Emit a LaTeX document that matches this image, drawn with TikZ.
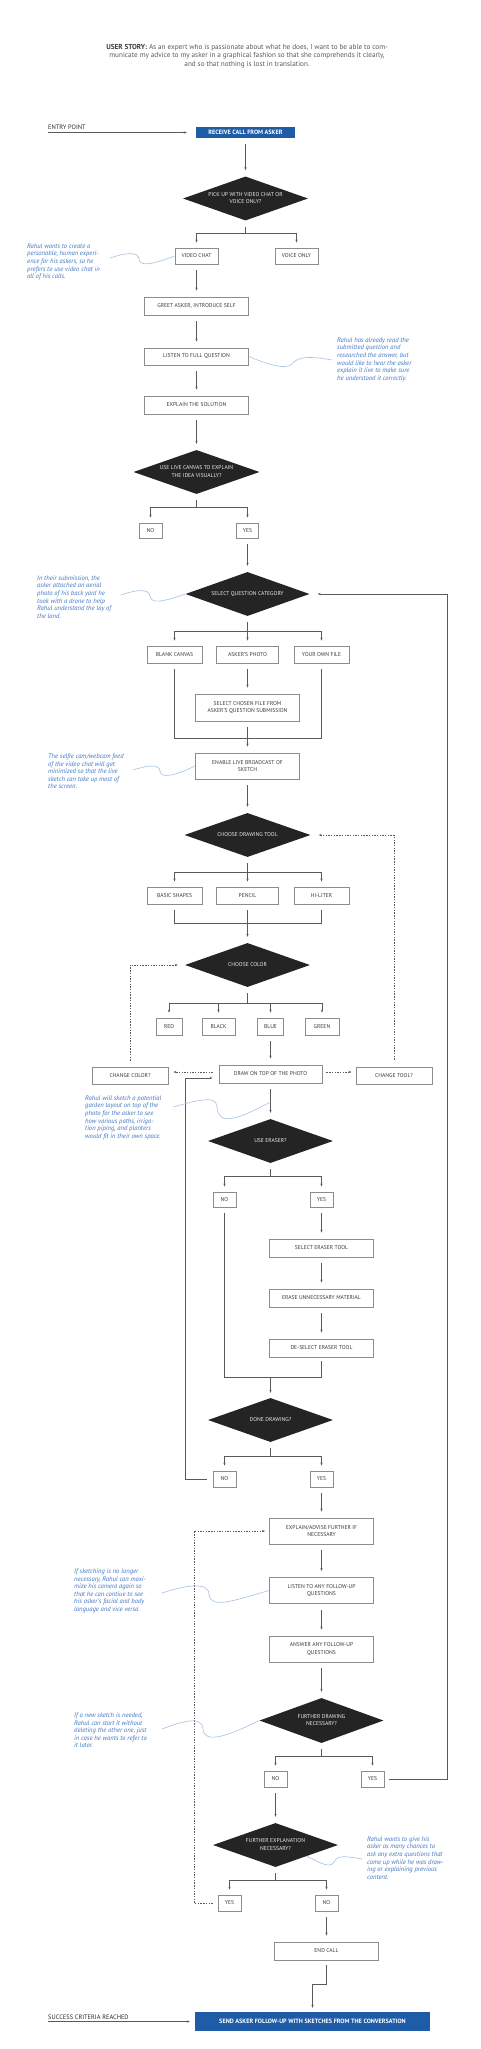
\documentclass[tikz,border=0pt]{standalone}
\usepackage{fontspec}
\setmainfont{PT Sans}
\usetikzlibrary{shapes.geometric,arrows.meta,calc}
\definecolor{lnc}{HTML}{5A5A5A}
\definecolor{boxc}{HTML}{8C8C8C}
\definecolor{txtc}{HTML}{3A3A3A}
\definecolor{diac}{HTML}{242424}
\definecolor{bluec}{HTML}{1F5CA8}
\definecolor{notec}{HTML}{4177C2}
\definecolor{wavec}{HTML}{A6C2E4}
\definecolor{storyc}{HTML}{5A5A5A}
\definecolor{labc}{HTML}{2A2A2A}
\newcommand\boxfont{\fontsize{5.6}{7.8}\selectfont}
\newcommand\notefont{\fontsize{6.6}{7.6}\selectfont\itshape}
\newcommand\labfont{\fontsize{6.4}{7.2}\selectfont}
\newcommand\bluefont{\fontsize{6.2}{7}\selectfont\bfseries}
\newcommand\dtxt[1]{\makebox[0pt]{\begin{tabular}{@{}c@{}}#1\end{tabular}}}
\tikzset{
  ln/.style={draw=lnc, line width=0.6pt},
  tip/.style={-{Stealth[length=3pt,width=2.2pt]}},
  arr/.style={ln, tip, shorten >=6pt, shorten <=6pt},
  jarr/.style={ln, tip, shorten >=5pt},
  darr/.style={ln, tip, dash pattern=on 1.4pt off 1.3pt},
  box/.style={draw=boxc, line width=0.8pt, fill=white, text=txtc, inner sep=0pt,
    font=\boxfont, align=center, minimum height=18pt, minimum width=104pt},
  bluebox/.style={fill=bluec, text=white, font=\bluefont, inner sep=0pt},
  dia/.style={diamond, fill=diac, text=white!92!black, inner sep=0pt,
    minimum width=125pt, minimum height=44pt, font=\boxfont},
  note/.style={text=notec, font=\notefont, align=left, inner sep=0pt, anchor=north west},
  wave/.style={draw=wavec, line width=0.6pt},
  lab/.style={text=labc, font=\labfont, inner sep=0pt},
}
\begin{document}
\begin{tikzpicture}[x=1pt,y=-1pt]
\fill[white] (0,0) rectangle (481,2049);
\useasboundingbox (0,0) rectangle (481,2049);

% user story
\node[text=storyc, font=\fontsize{7.2}{8.2}\selectfont, align=center, inner sep=0pt] (us) at (247,56)
 {\textcolor{txtc}{\bfseries USER STORY:} As an expert who is passionate about what he does, I want to be able to com-\\
  municate my advice to my asker in a graphical fashion so that she comprehends it clearly,\\
  and so that nothing is lost in translation.};

% entry
\node[bluebox, minimum width=99pt, minimum height=11.5pt] (rc) at (245.5,132.5) {RECEIVE CALL FROM ASKER};
\node[lab, anchor=base west] (ep) at (48,129.5) {ENTRY POINT};
\draw[ln, tip] (ep.base west |- rc.west) -- ($(rc.west)+(-9,0)$);

\node[dia] (d1) at (245.5,198.5) {\dtxt{PICK UP WITH VIDEO CHAT OR\\VOICE ONLY?}};
\draw[arr] (rc) -- (d1);
\node[box, minimum width=43pt, minimum height=16pt] (vc) at (196.5,256) {VIDEO CHAT};
\node[box, minimum width=43pt, minimum height=16pt] (vo) at (296.5,256) {VOICE ONLY};
\coordinate (j1) at (245.5,233);
\draw[ln] ($(d1.south)+(0,6)$) -- (j1);
\draw[ln] (j1 -| vc) -- (j1 -| vo);
\draw[jarr] (j1 -| vc) -- (vc);
\draw[jarr] (j1 -| vo) -- (vo);

\node[box] (gr) at (196.5,306) {GREET ASKER, INTRODUCE SELF};
\node[box, minimum height=17pt] (ls) at (196.5,356.5) {LISTEN TO FULL QUESTION};
\node[box] (es) at (196.5,405) {EXPLAIN THE SOLUTION};
\node[dia, minimum width=126pt] (d2) at (196.5,472) {\dtxt{USE LIVE CANVAS TO EXPLAIN\\THE IDEA VISUALLY?}};
\draw[arr] (vc) -- (gr);
\draw[arr] (gr) -- (ls);
\draw[arr] (ls) -- (es);
\draw[arr] (es) -- (d2);

\node[box, minimum width=23pt, minimum height=15pt] (n2) at (150.5,530.5) {NO};
\node[box, minimum width=22pt, minimum height=15pt] (y2) at (247.5,530.5) {YES};
\coordinate (j2) at (196.5,507);
\draw[ln] ($(d2.south)+(0,6)$) -- (j2);
\draw[ln] (j2 -| n2) -- (j2 -| y2);
\draw[jarr] (j2 -| n2) -- (n2);
\draw[jarr] (j2 -| y2) -- (y2);

% select question category
\node[dia, minimum width=124pt] (d3) at (247.5,594) {\dtxt{SELECT QUESTION CATEGORY}};
\draw[arr] (y2) -- (d3);
\node[box, minimum width=55pt, minimum height=17pt] (bc) at (174.5,654.5) {BLANK CANVAS};
\node[box, minimum width=62pt, minimum height=17pt] (ap) at (247.5,654.5) {ASKER'S PHOTO};
\node[box, minimum width=55pt, minimum height=17pt] (yf) at (321.5,654.5) {YOUR OWN FILE};
\coordinate (j3) at (247.5,631);
\draw[ln] ($(d3.south)+(0,6)$) -- (j3);
\draw[ln] (j3 -| bc) -- (j3 -| yf);
\draw[jarr] (j3 -| bc) -- (bc);
\draw[jarr] (j3) -- (ap);
\draw[jarr] (j3 -| yf) -- (yf);

\node[box, minimum height=27pt] (sc) at (247.5,707.5) {SELECT CHOSEN FILE FROM\\ASKER'S QUESTION SUBMISSION};
\draw[arr] (ap) -- (sc);
\coordinate (m1) at (0,738);
\draw[ln] ($(bc.south)+(0,6)$) -- (bc |- m1) -- (yf |- m1) -- ($(yf.south)+(0,6)$);
\node[box, minimum height=26pt] (eb) at (247.5,766) {ENABLE LIVE BROADCAST OF\\SKETCH};
\draw[arr] (sc) -- (eb);

% drawing tool
\node[dia, minimum width=126pt] (d4) at (247.5,835) {\dtxt{CHOOSE DRAWING TOOL}};
\draw[arr] (eb) -- (d4);
\node[box, minimum width=55pt, minimum height=17pt] (bs) at (174.5,895.5) {BASIC SHAPES};
\node[box, minimum width=62pt, minimum height=17pt] (pe) at (247.5,895.5) {PENCIL};
\node[box, minimum width=55pt, minimum height=17pt] (hl) at (321.5,895.5) {HI-LITER};
\coordinate (j4) at (247.5,872);
\draw[ln] ($(d4.south)+(0,6)$) -- (j4);
\draw[ln] (j4 -| bs) -- (j4 -| hl);
\draw[jarr] (j4 -| bs) -- (bs);
\draw[jarr] (j4) -- (pe);
\draw[jarr] (j4 -| hl) -- (hl);
\coordinate (m2) at (0,923);
\draw[ln] ($(bs.south)+(0,6)$) -- (bs |- m2) -- (hl |- m2) -- ($(hl.south)+(0,6)$);

% color
\node[dia] (d5) at (247.5,965) {\dtxt{CHOOSE COLOR}};
\draw[arr] (pe) -- (d5);
\node[box, minimum width=26pt, minimum height=17pt] (rd) at (169,1026.5) {RED};
\node[box, minimum width=33pt, minimum height=17pt] (bk) at (218.5,1026.5) {BLACK};
\node[box, minimum width=26pt, minimum height=17pt] (bl) at (270.5,1026.5) {BLUE};
\node[box, minimum width=34pt, minimum height=17pt] (gn) at (322,1026.5) {GREEN};
\coordinate (j5) at (247.5,1003);
\draw[ln] ($(d5.south)+(0,6)$) -- (j5);
\draw[ln] (j5 -| rd) -- (j5 -| gn);
\draw[jarr] (j5 -| rd) -- (rd);
\draw[jarr] (j5 -| bk) -- (bk);
\draw[jarr] (j5 -| bl) -- (bl);
\draw[jarr] (j5 -| gn) -- (gn);

\node[box, minimum width=103pt] (dr) at (270.5,1074) {DRAW ON TOP OF THE PHOTO};
\draw[arr] (bl) -- (dr);
\node[box, minimum width=76pt, minimum height=17pt] (cc) at (130,1075.5) {CHANGE COLOR?};
\node[box, minimum width=76pt, minimum height=17pt] (ct) at (394,1075.5) {CHANGE TOOL?};
\coordinate (dy) at (0,1072);
\draw[darr] ($(dr.west |- dy)+(-6,0)$) -- ($(cc.east |- dy)+(5,0)$);
\draw[darr] ($(dr.east |- dy)+(4,0)$) -- ($(ct.west |- dy)+(-4,0)$);
\draw[darr] ($(ct.north)+(0,-7)$) -- (ct |- d4) -- ($(d4.east)+(8,0)$);
\draw[darr] ($(cc.north)+(0,-6)$) -- (cc |- d5) -- ($(d5.west)+(-7,0)$);

% eraser
\node[dia] (d6) at (270.5,1141) {\dtxt{USE ERASER?}};
\draw[arr] (dr) -- (d6);
\node[box, minimum width=23pt, minimum height=15pt] (n6) at (224.5,1199.5) {NO};
\node[box, minimum width=23pt, minimum height=15pt] (y6) at (321.5,1199.5) {YES};
\coordinate (j6) at (270.5,1176);
\draw[ln] ($(d6.south)+(0,6)$) -- (j6);
\draw[ln] (j6 -| n6) -- (j6 -| y6);
\draw[jarr] (j6 -| n6) -- (n6);
\draw[jarr] (j6 -| y6) -- (y6);
\node[box] (se) at (321.5,1248) {SELECT ERASER TOOL};
\node[box] (eu) at (321.5,1298) {ERASE UNNECESSARY MATERIAL};
\node[box] (de) at (321.5,1348) {DE-SELECT ERASER TOOL};
\draw[arr] (y6) -- (se);
\draw[arr] (se) -- (eu);
\draw[arr] (eu) -- (de);

\node[dia] (d7) at (270.5,1420) {\dtxt{DONE DRAWING?}};
\coordinate (m3) at (0,1377);
\draw[ln] ($(n6.south)+(0,6)$) -- (n6 |- m3) -- (de |- m3) -- ($(de.south)+(0,4)$);
\draw[jarr] (d7 |- m3) -- (d7);
\node[box, minimum width=23pt, minimum height=16pt] (n7) at (224.5,1479) {NO};
\node[box, minimum width=23pt, minimum height=16pt] (y7) at (321.5,1479) {YES};
\coordinate (j7) at (270.5,1456);
\draw[ln] ($(d7.south)+(0,6)$) -- (j7);
\draw[ln] (j7 -| n7) -- (j7 -| y7);
\draw[jarr] (j7 -| n7) -- (n7);
\draw[jarr] (j7 -| y7) -- (y7);
\coordinate (ll) at (185,0);
\coordinate (llt) at (185,1078);
\draw[ln, tip] ($(n7.west)+(-6,0)$) -- (ll |- n7) -- (llt) -- ($(dr.west |- llt)+(-6,0)$);

% follow-up
\node[box, minimum height=26pt] (ex) at (321.5,1531) {EXPLAIN/ADVISE FURTHER IF\\NECESSARY};
\node[box, minimum height=26pt] (lf) at (321.5,1590.5) {LISTEN TO ANY FOLLOW-UP\\QUESTIONS};
\node[box, minimum height=26pt] (af) at (321.5,1649) {ANSWER ANY FOLLOW-UP\\QUESTIONS};
\draw[arr] (y7) -- (ex);
\draw[arr] (ex) -- (lf);
\draw[arr] (lf) -- (af);
\node[dia, minimum width=124pt, minimum height=45pt] (d8) at (321.5,1720.5) {\dtxt{FURTHER DRAWING\\NECESSARY?}};
\draw[arr] (af) -- (d8);
\node[box, minimum width=23pt, minimum height=16pt] (n8) at (275.5,1779) {NO};
\node[box, minimum width=23pt, minimum height=16pt] (y8) at (372.5,1779) {YES};
\coordinate (j8) at (321.5,1756);
\draw[ln] ($(d8.south)+(0,6)$) -- (j8);
\draw[ln] (j8 -| n8) -- (j8 -| y8);
\draw[jarr] (j8 -| n8) -- (n8);
\draw[jarr] (j8 -| y8) -- (y8);
\coordinate (rl) at (447,0);
\draw[ln, tip] ($(y8.east)+(5,0)$) -- (rl |- y8) -- (rl |- d3) -- ($(d3.east)+(8,0)$);

\node[dia] (d9) at (275.5,1845) {\dtxt{FURTHER EXPLANATION\\NECESSARY?}};
\draw[arr] (n8) -- (d9);
\node[box, minimum width=23pt, minimum height=16pt] (y9) at (229.5,1903) {YES};
\node[box, minimum width=23pt, minimum height=16pt] (n9) at (326.5,1903) {NO};
\coordinate (j9) at (275.5,1880);
\draw[ln] ($(d9.south)+(0,6)$) -- (j9);
\draw[ln] (j9 -| y9) -- (j9 -| n9);
\draw[jarr] (j9 -| y9) -- (y9);
\draw[jarr] (j9 -| n9) -- (n9);
\coordinate (dl) at (194,0);
\draw[darr] ($(y9.west)+(-5,0)$) -- (dl |- y9) -- (dl |- ex) -- ($(ex.west)+(-4,0)$);

\node[box] (ec) at (326.5,1951) {END CALL};
\draw[arr] (n9) -- (ec);
\node[bluebox, minimum width=235pt, minimum height=19pt] (sd) at (312.5,2021.5) {SEND ASKER FOLLOW-UP WITH SKETCHES FROM THE CONVERSATION};
\draw[ln, tip] ($(ec.south)+(0,5)$) -- ++(0,19) -| ($(sd.north)+(0,-4)$);
\node[lab, anchor=base west] (sr) at (48,2019.5) {SUCCESS CRITERIA REACHED};
\draw[ln, tip] (sr.base west |- sd.west) -- ($(sd.west)+(-5,0)$);

% annotations
\node[note] (a1) at (27,243.5) {Rahul wants to create a\\personable, human experi-\\ence for his askers, so he\\prefers to use video chat in\\all of his calls.};
\coordinate (w1) at (110,258);
\draw[wave] (w1) .. controls (125,253) and (138,251) .. (139,259) .. controls (140,268) and (156,263) .. (vc.west);

\node[note] (a2) at (337,337.5) {Rahul has already read the\\submitted question and\\researched the answer, but\\would like to hear the asker\\explain it live to make sure\\he understood it correctly.};
\coordinate (w2) at (332,360);
\draw[wave] (ls.east) .. controls (262,362) and (285,371) .. (292,364) .. controls (297,358) and (305,355) .. (w2);

\node[note] (a3) at (37,575.5) {In their submission, the\\asker attached an aerial\\photo of his back yard he\\took with a drone to help\\Rahul understand the lay of\\the land.};
\coordinate (w3) at (121,595);
\draw[wave] (w3) .. controls (135,590) and (149,588) .. (150,596) .. controls (151,605) and (165,601) .. (d3.west);

\node[note] (a4) at (48,753.5) {The selfie cam/webcam feed\\of the video chat will get\\minimized so that the live\\sketch can take up most of\\the screen.};
\coordinate (w4) at (133,770);
\draw[wave] (w4) .. controls (146,766) and (159,763) .. (160,771) .. controls (161,780) and (178,774) .. (eb.west);

\node[note] (a5) at (85,1095.5) {Rahul will sketch a potential\\garden layout on top of the\\photo for the asker to see\\how various paths, irriga-\\tion piping, and planters\\would fit in their own space.};
\coordinate (w5) at (173,1107);
\coordinate (w5e) at (270.5,1102);
\draw[wave] (w5) .. controls (192,1102) and (216,1094) .. (217,1106) .. controls (218,1128) and (240,1118) .. (w5e);

\node[note] (a6) at (74,1568.5) {If sketching is no longer\\necessary, Rahul can maxi-\\mize his camera again so\\that he can contiue to see\\his asker's facial and body\\language and vice versa.};
\coordinate (w6) at (162,1593);
\draw[wave] (w6) .. controls (180,1587) and (208,1580) .. (209,1594) .. controls (210,1610) and (235,1600) .. (lf.west);

\node[note] (a7) at (74,1712.5) {If a new sketch is needed,\\Rahul can start it without\\deleting the other one, just\\in case he wants to refer to\\it later.};
\coordinate (w7) at (162,1729);
\draw[wave] (w7) .. controls (178,1723) and (202,1714) .. (203,1729) .. controls (204,1745) and (230,1735) .. (d8.west);

\node[note] (a8) at (367,1836.5) {Rahul wants to give his\\asker as many chances to\\ask any extra questions that\\come up while he was draw-\\ing or explaining previous\\content.};
\coordinate (w8) at (362,1859);
\draw[wave] (d9.south east) .. controls (315,1860) and (330,1870) .. (334,1862) .. controls (337,1855) and (345,1856) .. (w8);
\end{tikzpicture}
\end{document}
